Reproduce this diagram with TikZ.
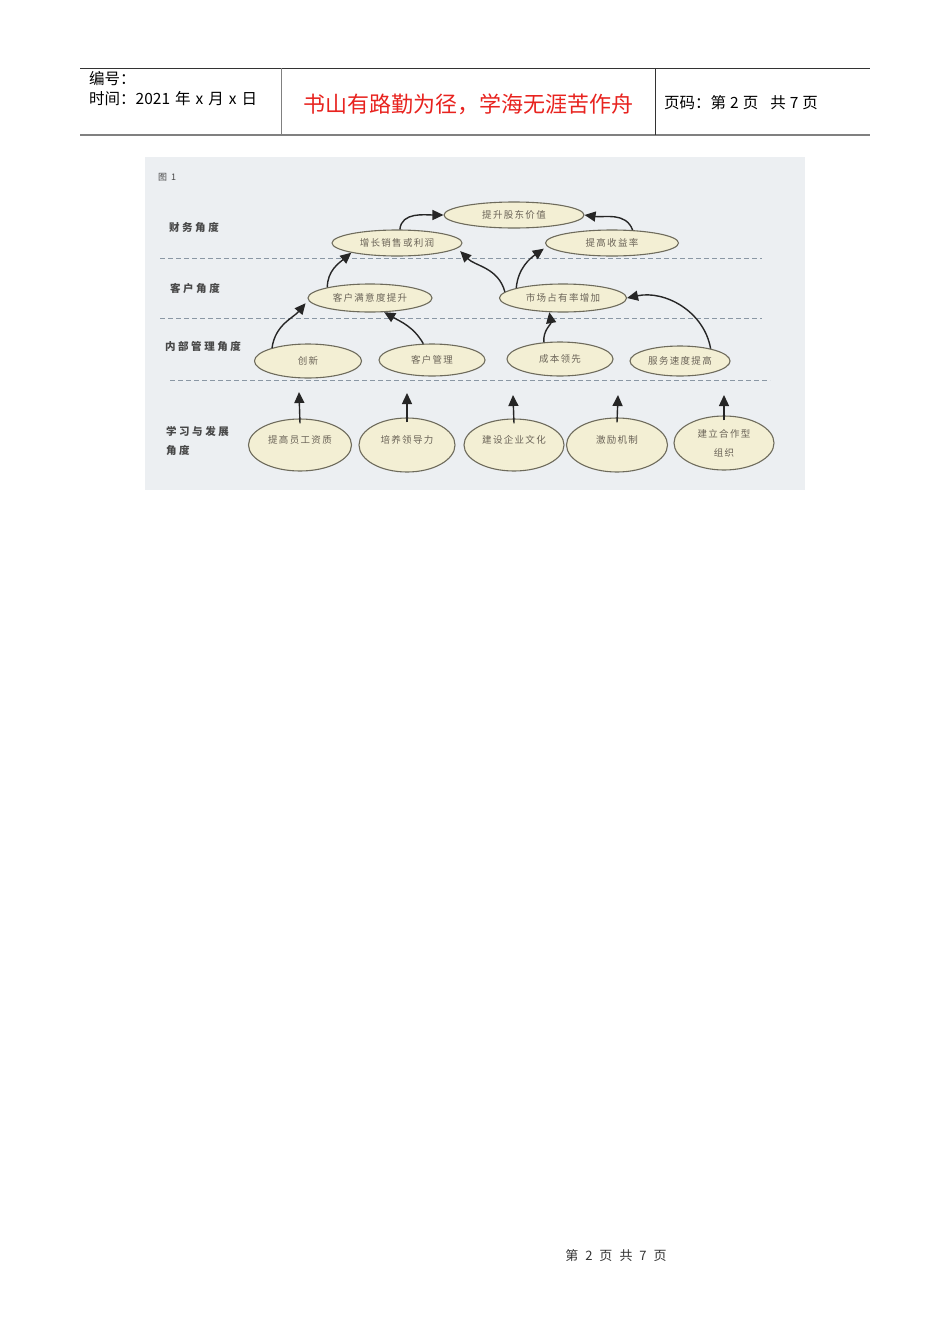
\documentclass[tikz,border=0pt]{standalone}
\usepackage{fontspec}
\setmainfont{Noto Sans CJK SC}
\newfontfamily\cjk{Noto Sans CJK SC}
\newfontfamily\cjkwide[LetterSpace=14]{Noto Sans CJK SC}
\newfontfamily\cjklabel[LetterSpace=24]{Noto Sans CJK SC}
\usetikzlibrary{shapes.geometric,arrows.meta}
\definecolor{bgfig}{HTML}{ECEFF2}
\definecolor{ellfill}{HTML}{F3EFD4}
\definecolor{ellline}{HTML}{6E6B5C}
\definecolor{elltext}{HTML}{6B6458}
\definecolor{labeltext}{HTML}{484848}
\definecolor{dashcol}{HTML}{8A97A4}
\definecolor{hdrred}{HTML}{E8231F}
\tikzset{
  oval/.style={ellipse, draw=ellline, fill=ellfill, line width=1.1pt, inner sep=0pt,
    font=\cjkwide\fontsize{9.5}{11}\selectfont, text=elltext},
  rowlabel/.style={anchor=west, font=\cjklabel\bfseries\fontsize{10.5}{19}\selectfont, text=labeltext, align=left, inner sep=0pt},
  sep/.style={dashcol, dashed, dash pattern=on 5pt off 3pt, line width=0.9pt},
  arr/.style={-{Triangle[length=11pt,width=10pt]}, line width=1.4pt, black!85},
  hdr/.style={anchor=west, inner sep=0pt, font=\cjk\fontsize{15.5}{17}\selectfont},
}
\begin{document}
\begin{tikzpicture}[x=1pt,y=-1pt]
\useasboundingbox (0,0) rectangle (950,1344);
\fill[white] (0,0) rectangle (950,1344);
% header
\draw[line width=0.8pt, black!80] (80,68) -- (870,68);
\draw[line width=1.3pt, black!50] (80,135) -- (870,135);
\draw[line width=0.9pt, black!50] (281,68) -- (281,135);
\draw[line width=0.8pt, black!80] (655,68) -- (655,135);
\node[hdr] (h1) at (89,79) {编号：};
\node[hdr] (h2) at (89,99) {时间：2021\hspace{5pt}年\hspace{5pt}x\hspace{5pt}月\hspace{5pt}x\hspace{5pt}日};
\node[anchor=center, inner sep=0pt, font=\cjk\fontsize{22}{24}\selectfont, text=hdrred] (h3) at (468,104) {书山有路勤为径，学海无涯苦作舟};
\node[hdr] (h4) at (664,103) {页码：第\hspace{4pt}2\hspace{4pt}页\hspace{12pt}共\hspace{4pt}7\hspace{4pt}页};
% figure background
\fill[bgfig] (145,157) rectangle (805,490);
\node[anchor=west, inner sep=0pt, font=\cjk\fontsize{9}{10}\selectfont, text=labeltext] (fig) at (158,177) {图\hspace{4pt}1};
% row labels
\node[rowlabel] (l1) at (169,228) {财务角度};
\node[rowlabel] (l2) at (170,288) {客户角度};
\node[rowlabel] (l3) at (165,346) {内部管理角度};
\node[rowlabel] (l4) at (166,441) {学习与发展\\角度};
% separators
\draw[sep] (160,258) -- (762,258);
\draw[sep] (160,318) -- (762,318);
\draw[sep] (170,380) -- (770,380);
% ellipses
\node[oval, minimum width=140pt, minimum height=26pt] (sv) at (514,215) {提升股东价值};
\node[oval, minimum width=130pt, minimum height=26pt] (sales) at (397,243) {增长销售或利润};
\node[oval, minimum width=133pt, minimum height=26pt] (yield) at (612,243) {提高收益率};
\node[oval, minimum width=124pt, minimum height=28pt] (cust) at (370,298) {客户满意度提升};
\node[oval, minimum width=127pt, minimum height=28pt] (mkt) at (563,298) {市场占有率增加};
\node[oval, minimum width=107pt, minimum height=34pt] (inn) at (308,361) {创新};
\node[oval, minimum width=106pt, minimum height=32pt] (mgmt) at (432,360) {客户管理};
\node[oval, minimum width=106pt, minimum height=34pt] (cost) at (560,359) {成本领先};
\node[oval, minimum width=100pt, minimum height=30pt] (serv) at (680,361) {服务速度提高};
\node[oval, minimum width=103pt, minimum height=52pt] (b1) at (300,445) {\raisebox{11pt}{提高员工资质}};
\node[oval, minimum width=96pt, minimum height=54pt] (b2) at (407,445) {\raisebox{11pt}{培养领导力}};
\node[oval, minimum width=100pt, minimum height=52pt] (b3) at (514,445) {\raisebox{11pt}{建设企业文化}};
\node[oval, minimum width=101pt, minimum height=54pt] (b4) at (617,445) {\raisebox{11pt}{激励机制}};
\node[oval, minimum width=100pt, minimum height=54pt, align=center, font=\cjkwide\fontsize{9.5}{19}\selectfont] (b5) at (724,443) {建立合作型\\组织};
% curved arrows
\draw[arr] (sales.78) to[out=85,in=180] (sv.west);
\draw[arr] (yield.32) to[out=110,in=-8] (sv.east);
\draw[arr] (cust.166) to[out=90,in=-140] (sales.192);
\draw[arr, shorten >=4pt] (mkt.174) to[out=105,in=-45] (sales.-5);
\draw[arr, shorten >=4pt] (mkt.168) to[out=85,in=-145] (yield.183);
\draw[arr, shorten >=4pt] (inn.160) to[out=82,in=-130] (cust.182);
\draw[arr] (mgmt.118) to[out=120,in=-30] (cust.-45);
\draw[arr] (cost.134) to[out=95,in=-80] (mkt.226);
\draw[arr] (serv.22) to[out=100,in=12] (mkt.east);
% straight arrows from learning row
\coordinate (t1) at (299,392);
\coordinate (t2) at (407,393);
\coordinate (t3) at (513,395);
\coordinate (t4) at (618,395);
\coordinate (t5) at (724,395);
\draw[arr] ([yshift=-5pt]b1.north) -- (t1);
\draw[arr] ([yshift=-5pt]b2.north) -- (t2);
\draw[arr] ([yshift=-5pt]b3.north) -- (t3);
\draw[arr] ([yshift=-5pt]b4.north) -- (t4);
\draw[arr] ([yshift=-5pt]b5.north) -- (t5);
% footer
\node[inner sep=0pt, font=\cjk\fontsize{13}{15}\selectfont, text=black!80] (foot) at (616,1256) {第\hspace{7pt}2\hspace{7pt}页\hspace{7pt}共\hspace{7pt}7\hspace{7pt}页};
\end{tikzpicture}
\end{document}
